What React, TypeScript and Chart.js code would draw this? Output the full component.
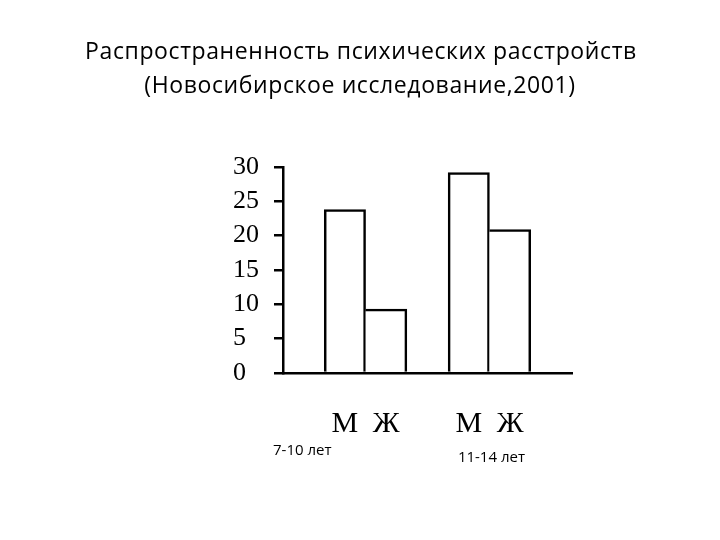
import React, { useEffect, useRef } from "react";
import { Chart, registerables } from "chart.js";

Chart.register(...registerables);

const titleLines = ["Распространенность психических расстройств", "(Новосибирское исследование,2001)"];
const categories = ["", "М", "Ж", "", "М", "Ж", ""];
const values: (number | null)[] = [null, 23.8, 9.3, null, 29.2, 20.9, null];
const femaleIndices = [2, 5];
const yTicks = [0, 5, 10, 15, 20, 25, 30];
const groupLabels = ["7-10 лет", "11-14 лет"];

const titlePlugin = {
  id: "customTitle",
  afterDraw(chart: any) {
    const ctx = chart.ctx;
    ctx.save();
    ctx.fillStyle = "#000";
    ctx.font = "23px 'Open Sans'";
    (ctx as any).letterSpacing = "0.6px";
    ctx.textAlign = "center";
    ctx.textBaseline = "alphabetic";
    ctx.fillText(titleLines[0], 361, 59);
    ctx.fillText(titleLines[1], 360, 93);
    ctx.restore();
  },
};

const groupLabelPlugin = {
  id: "groupLabels",
  afterDraw(chart: any) {
    const ctx = chart.ctx;
    const x = chart.scales.x;
    ctx.save();
    ctx.fillStyle = "#000";
    ctx.font = "15px 'Open Sans'";
    ctx.textAlign = "center";
    ctx.textBaseline = "middle";
    ctx.fillText(groupLabels[0], (x.getPixelForValue(0) + x.getPixelForValue(1)) / 2 - 22, 451);
    ctx.fillText(groupLabels[1], (x.getPixelForValue(4) + x.getPixelForValue(5)) / 2 + 2, 458);
    ctx.restore();
  },
};

export default function App() {
  const ref = useRef<HTMLCanvasElement>(null);
  useEffect(() => {
    document.body.style.margin = "0";
    const chart = new Chart(ref.current!, {
      type: "bar",
      data: {
        labels: categories,
        datasets: [
          {
            data: values,
            backgroundColor: "#ffffff",
            borderColor: "#000000",
            borderWidth: (c: any) =>
              femaleIndices.includes(c.dataIndex)
                ? { top: 2.5, left: 0, right: 2.5, bottom: 0 }
                : { top: 2.5, left: 2.5, right: 2.5, bottom: 0 },
            barPercentage: 1,
            categoryPercentage: 1,
          },
        ],
      },
      options: {
        animation: false,
        responsive: false,
        layout: { padding: { left: 233, right: 148, bottom: 60, top: 167 } },
        plugins: {
          legend: { display: false },
          tooltip: { enabled: false },
          title: { display: false },
        },
        scales: {
          x: {
            grid: { display: false },
            border: { display: true, color: "#000", width: 2.5 },
            ticks: {
              color: "#000",
              font: { family: "'Liberation Serif'", size: 30 },
              padding: 25,
              maxRotation: 0,
              autoSkip: false,
            },
            afterFit: (s: any) => {
              s.height = 107;
            },
          },
          y: {
            min: 0,
            max: 30,
            afterBuildTicks: (s: any) => {
              s.ticks = yTicks.map((v) => ({ value: v }));
            },
            grid: { drawOnChartArea: false, drawTicks: true, tickLength: 9, color: "#000", lineWidth: 2.5 },
            border: { display: true, color: "#000", width: 2.5 },
            ticks: {
              color: "#000",
              font: { family: "'Liberation Serif'", size: 26 },
              padding: 3,
              crossAlign: "far",
            },
            afterFit: (s: any) => {
              s.width = 50;
            },
          },
        },
      },
      plugins: [titlePlugin, groupLabelPlugin],
    });
    return () => chart.destroy();
  }, []);
  return (
    <div style={{ position: "absolute", left: 0, top: 0, width: 720, height: 540, background: "#fff" }}>
      <canvas ref={ref} width={720} height={540} />
    </div>
  );
}
